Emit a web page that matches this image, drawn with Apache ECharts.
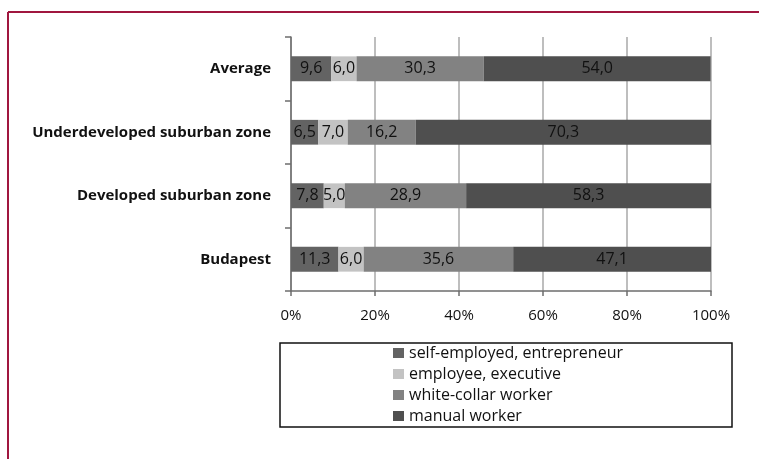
<!DOCTYPE html>
<html><head><meta charset="utf-8">
<script src="https://cdn.jsdelivr.net/npm/echarts@6/dist/echarts.min.js"></script>
<style>html,body{margin:0;padding:0;background:#fff}#c{width:759px;height:459px}</style>
</head><body><div id="c"></div>
<script>
var categories = ['Average', 'Underdeveloped suburban zone', 'Developed suburban zone', 'Budapest'];
var seriesNames = ['self-employed, entrepreneur', 'employee, executive', 'white-collar worker', 'manual worker'];
var selfEmployed = [9.6, 6.5, 7.8, 11.3];
var employee = [6.0, 7.0, 5.0, 6.0];
var whiteCollar = [30.3, 16.2, 28.9, 35.6];
var manual = [54.0, 70.3, 58.3, 47.1];
var xTicks = [0, 20, 40, 60, 80, 100];
var colors = ['#636363', '#c3c3c3', '#828282', '#4f4f4f'];
var values = [selfEmployed, employee, whiteCollar, manual];
var FONT = '"Open Sans"';

var chart = echarts.init(document.getElementById('c'), null, {renderer: 'canvas'});
var series = seriesNames.map(function (n, i) {
  return {
    name: n, type: 'bar', stack: 'total', barWidth: '39%',
    itemStyle: {color: colors[i]},
    label: {show: true, position: 'inside', color: '#111', fontFamily: FONT, fontSize: 16,
      formatter: function (p) { return p.value.toFixed(1).replace('.', ','); }},
    data: values[i]
  };
});
chart.setOption({
  animation: false,
  textStyle: {fontFamily: FONT},
  grid: {left: 291, right: 48, top: 37, bottom: 168},
  xAxis: {
    type: 'value', min: xTicks[0], max: xTicks[xTicks.length - 1], interval: 20,
    axisLine: {show: true, lineStyle: {color: '#6e6e6e', width: 1.5}},
    axisTick: {show: true, length: 5, lineStyle: {color: '#6e6e6e', width: 1.5}},
    axisLabel: {formatter: '{value}%', color: '#111', fontSize: 15, fontFamily: FONT, margin: 17},
    splitLine: {show: true, lineStyle: {color: '#a8a8a8', width: 1.5}}
  },
  yAxis: {
    type: 'category', data: categories, inverse: true,
    axisLine: {show: true, lineStyle: {color: '#6e6e6e', width: 1.5}},
    axisTick: {show: true, length: 6, lineStyle: {color: '#6e6e6e', width: 1.5}},
    axisLabel: {color: '#111', fontSize: 15, fontWeight: 'bold', fontFamily: FONT, margin: 20}
  },
  legend: {
    orient: 'vertical', left: 388, top: 340, itemWidth: 11, itemHeight: 10, itemGap: 5,
    icon: 'rect', selectedMode: false,
    textStyle: {color: '#111', fontSize: 16, fontFamily: FONT, padding: [0, 0, 0, 0]},
    data: seriesNames
  },
  graphic: [
    {type: 'rect', shape: {x: 280, y: 343, width: 452, height: 84}, style: {fill: 'none', stroke: '#111', lineWidth: 1.5}, silent: true},
    {type: 'line', shape: {x1: 8, y1: 12, x2: 759, y2: 12}, style: {stroke: '#a0173f', lineWidth: 2}, silent: true},
    {type: 'line', shape: {x1: 8, y1: 12, x2: 8, y2: 459}, style: {stroke: '#a0173f', lineWidth: 2}, silent: true}
  ],
  series: series
});
</script></body></html>
